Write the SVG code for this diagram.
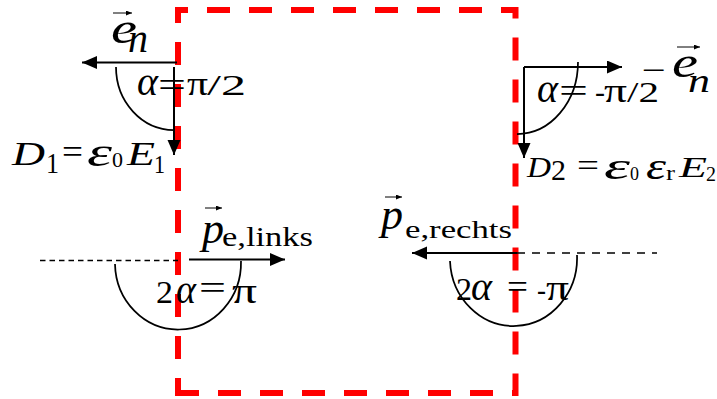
<svg xmlns="http://www.w3.org/2000/svg" width="717" height="399" viewBox="0 0 717 399">
<style>
.bound{fill:none;stroke:#FF0000;stroke-width:6;stroke-dasharray:23 19;stroke-dashoffset:8;stroke-linejoin:miter}
.arr{fill:none;stroke:#000;stroke-width:2;marker-end:url(#ah)}
.vec{fill:none;stroke:#000;stroke-width:1;marker-end:url(#sah)}
.arc{fill:none;stroke:#000;stroke-width:1.75}
.dl{fill:none;stroke:#000;stroke-width:1.5}
.lbl{font-family:"Liberation Serif","Times New Roman",serif;fill:#000}
.it{font-style:italic}
</style>
<defs>
<marker id="ah" markerUnits="userSpaceOnUse" markerWidth="16" markerHeight="14" refX="15" refY="6.5" orient="auto"><path d="M0,0 L15,6.5 L0,13 Z" fill="#000"/></marker>
<marker id="sah" markerUnits="userSpaceOnUse" markerWidth="7" markerHeight="6" refX="6" refY="2.5" orient="auto"><path d="M0,0 L6,2.5 L0,5 Z" fill="#000"/></marker>
</defs>
<g id="boundary"><path class="bound" d="M178,393 V10 H515.5 V393 Z"/></g>
<g id="connectors">
<path class="arr" d="M177,62.5 H82"/>
<path class="arr" d="M174,67 V155"/>
<path class="arr" d="M524,67 H622"/>
<path class="arr" d="M524,67 V158"/>
<path class="arr" d="M189,259.5 H285"/>
<path class="arr" d="M517,253 H412"/>
<path class="dl" d="M40,260.5 H178" stroke-dasharray="5.5 4"/>
<path class="dl" d="M517,253 H657" stroke-dasharray="8 7"/>
<path class="arc" d="M116,67 A58,63 0 0 0 174,130"/>
<path class="arc" d="M578,62 A61,72 0 0 1 517,134"/>
<path class="arc" d="M115,264 A63,67 0 0 0 241,261"/>
<path class="arc" d="M450,261 A63.5,68 0 0 0 577,255"/>
<path class="vec" d="M113,13 H132"/>
<path class="vec" d="M677,47 H700"/>
<path class="vec" d="M205,208 H222"/>
<path class="vec" d="M385,197 H402"/>
</g>
<g id="en-left"><text class="lbl"><tspan class="it" x="111" y="43" font-size="44" textLength="26" lengthAdjust="spacingAndGlyphs">e</tspan><tspan class="it" x="128" y="52" font-size="40" textLength="20" lengthAdjust="spacingAndGlyphs">n</tspan></text></g>
<g id="alpha-left"><text class="lbl"><tspan class="it" x="137" y="95" font-size="40" textLength="21" lengthAdjust="spacingAndGlyphs">α</tspan> <tspan x="158" y="97" font-size="36" textLength="28" lengthAdjust="spacingAndGlyphs">=</tspan> <tspan x="187" y="95" font-size="33" textLength="21" lengthAdjust="spacingAndGlyphs">π</tspan><tspan x="207" y="95" font-size="30" textLength="39" lengthAdjust="spacingAndGlyphs">/2</tspan></text></g>
<g id="D1"><text class="lbl"><tspan class="it" x="12" y="165" font-size="33" textLength="33" lengthAdjust="spacingAndGlyphs">D</tspan> <tspan x="46" y="173" font-size="30" textLength="13" lengthAdjust="spacingAndGlyphs">1</tspan> <tspan x="62" y="163" font-size="33" textLength="21" lengthAdjust="spacingAndGlyphs">=</tspan> <tspan class="it" x="87" y="166" font-size="40" textLength="25" lengthAdjust="spacingAndGlyphs">ε</tspan><tspan x="112" y="167" font-size="22" textLength="11" lengthAdjust="spacingAndGlyphs">0</tspan> <tspan class="it" x="127" y="165" font-size="33" textLength="28" lengthAdjust="spacingAndGlyphs">E</tspan><tspan x="154" y="173" font-size="26" textLength="11" lengthAdjust="spacingAndGlyphs">1</tspan></text></g>
<g id="alpha-right"><text class="lbl"><tspan class="it" x="537" y="102" font-size="40" textLength="21" lengthAdjust="spacingAndGlyphs">α</tspan> <tspan x="559" y="102" font-size="34" textLength="29" lengthAdjust="spacingAndGlyphs">=</tspan> <tspan x="595" y="102" font-size="30" textLength="10" lengthAdjust="spacingAndGlyphs">-</tspan><tspan x="604" y="102" font-size="33" textLength="23" lengthAdjust="spacingAndGlyphs">π</tspan><tspan x="627" y="102" font-size="30" textLength="32" lengthAdjust="spacingAndGlyphs">/2</tspan></text></g>
<g id="en-right"><text class="lbl"><tspan x="642" y="80" font-size="30" textLength="24" lengthAdjust="spacingAndGlyphs">−</tspan><tspan class="it" x="672" y="77" font-size="44" textLength="26" lengthAdjust="spacingAndGlyphs">e</tspan><tspan class="it" x="688" y="92" font-size="33" textLength="22" lengthAdjust="spacingAndGlyphs">n</tspan></text></g>
<g id="D2"><text class="lbl"><tspan class="it" x="527" y="177" font-size="30" textLength="24" lengthAdjust="spacingAndGlyphs">D</tspan> <tspan x="551" y="180" font-size="29" textLength="15" lengthAdjust="spacingAndGlyphs">2</tspan> <tspan x="577" y="176" font-size="32" textLength="22" lengthAdjust="spacingAndGlyphs">=</tspan> <tspan class="it" x="604" y="179" font-size="38" textLength="26" lengthAdjust="spacingAndGlyphs">ε</tspan><tspan x="630" y="180" font-size="18" textLength="9" lengthAdjust="spacingAndGlyphs">0</tspan> <tspan class="it" x="646" y="179" font-size="38" textLength="20" lengthAdjust="spacingAndGlyphs">ε</tspan><tspan x="666" y="180" font-size="20" textLength="9" lengthAdjust="spacingAndGlyphs">r</tspan> <tspan class="it" x="679" y="177" font-size="30" textLength="28" lengthAdjust="spacingAndGlyphs">E</tspan><tspan x="706" y="181" font-size="20" textLength="10" lengthAdjust="spacingAndGlyphs">2</tspan></text></g>
<g id="pe-links"><text class="lbl"><tspan class="it" x="202" y="243" font-size="44" textLength="22" lengthAdjust="spacingAndGlyphs">p</tspan><tspan x="222" y="246" font-size="28" textLength="91" lengthAdjust="spacingAndGlyphs">e,links</tspan></text></g>
<g id="angle-left"><text class="lbl"><tspan x="156" y="303" font-size="31" textLength="17" lengthAdjust="spacingAndGlyphs">2</tspan><tspan class="it" x="176" y="303" font-size="40" textLength="20" lengthAdjust="spacingAndGlyphs">α</tspan> <tspan x="199" y="299" font-size="34" textLength="27" lengthAdjust="spacingAndGlyphs">=</tspan> <tspan x="232" y="303" font-size="35" textLength="25" lengthAdjust="spacingAndGlyphs">π</tspan></text></g>
<g id="pe-rechts"><text class="lbl"><tspan class="it" x="381" y="229" font-size="44" textLength="22" lengthAdjust="spacingAndGlyphs">p</tspan><tspan x="405" y="238" font-size="25" textLength="107" lengthAdjust="spacingAndGlyphs">e,rechts</tspan></text></g>
<g id="angle-right"><text class="lbl"><tspan x="456" y="300" font-size="32" textLength="16" lengthAdjust="spacingAndGlyphs">2</tspan><tspan class="it" x="471" y="300" font-size="40" textLength="21" lengthAdjust="spacingAndGlyphs">α</tspan> <tspan x="507" y="298" font-size="34" textLength="21" lengthAdjust="spacingAndGlyphs">=</tspan> <tspan x="537" y="300" font-size="30" textLength="9" lengthAdjust="spacingAndGlyphs">-</tspan><tspan x="546" y="300" font-size="35" textLength="23" lengthAdjust="spacingAndGlyphs">π</tspan></text></g>
</svg>
